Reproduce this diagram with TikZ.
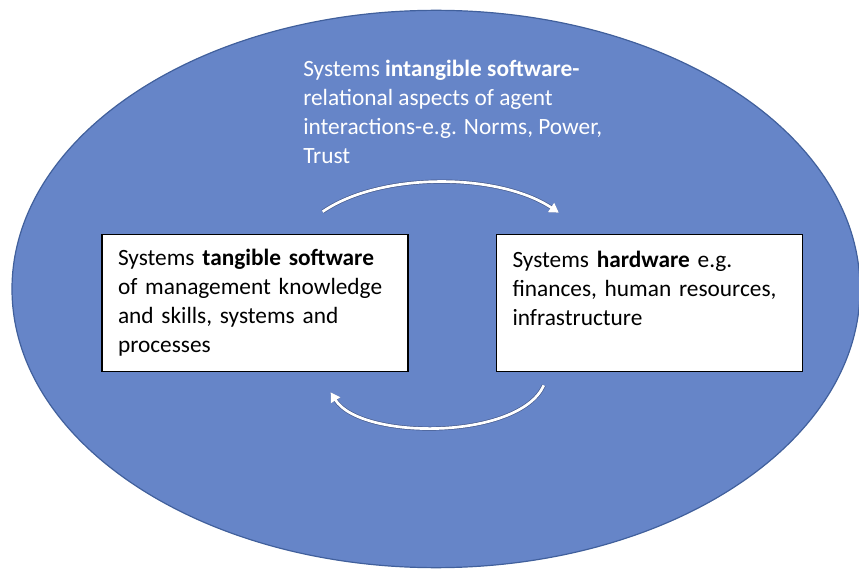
\documentclass[tikz,border=0pt]{standalone}
\usepackage{fontspec}
\setmainfont{Carlito}
\usetikzlibrary{shapes.geometric}
\usetikzlibrary{calc}
\usetikzlibrary{arrows.meta}
\colorlet{systemFill}{rgb,255:red,102;green,133;blue,200}
\colorlet{systemLine}{rgb,255:red,65;green,96;blue,156}
\colorlet{arrowEdge}{rgb,255:red,70;green,90;blue,140}
\tikzset{%
  % Specifications for style of nodes:
    boxText/.style = {font=\fontsize{17.5}{21.75}\selectfont},
    systemShape/.style = {ellipse,draw=systemLine,line width=0.9pt,fill=systemFill,minimum width=636pt, minimum height=418pt},
    infoBox/.style = {rectangle,draw=black,line width=1pt,fill=white,boxText,text width=205.5pt,inner xsep=12pt,minimum height=103pt,align=left},
    relationText/.style = {boxText,text=white,align=left,anchor=north west,inner sep=0pt},
    cycleArrow/.style = {line width=2pt,white,-{Triangle[length=7pt,width=8pt]},preaction={draw=arrowEdge,line width=3pt}},
}
\begin{document}
\begin{tikzpicture}[x=0.75pt,y=-0.75pt]
	\useasboundingbox (0,0) rectangle (859,573);
	\node [systemShape] (system) at (436,289) {};

	\node [relationText] (intangible) at (303,60) {Systems \textbf{intangible software-}\\relational aspects of agent\\interactions-e.g. Norms, Power,\\Trust};

	\node [infoBox] (tangible) at (255,303) {Systems \textbf{tangible software}\\of management knowledge\\and skills, systems and\\processes};
	\node [infoBox] (hardware) at (649.5,303) {Systems \textbf{hardware} e.g.\\finances, human resources,\\infrastructure\\~};

	% arrows running round between the two boxes
	\draw[cycleArrow] ($(tangible.north east)+(-86,-22)$) .. controls +(58,-40) and +(-60,-40) .. ($(hardware.north west)+(63,-21)$);
	\draw[cycleArrow] ($(hardware.south west)+(48,13)$) .. controls +(-25,55) and +(30,48) .. ($(tangible.south east)+(-78,20)$);
\end{tikzpicture}
\end{document}
